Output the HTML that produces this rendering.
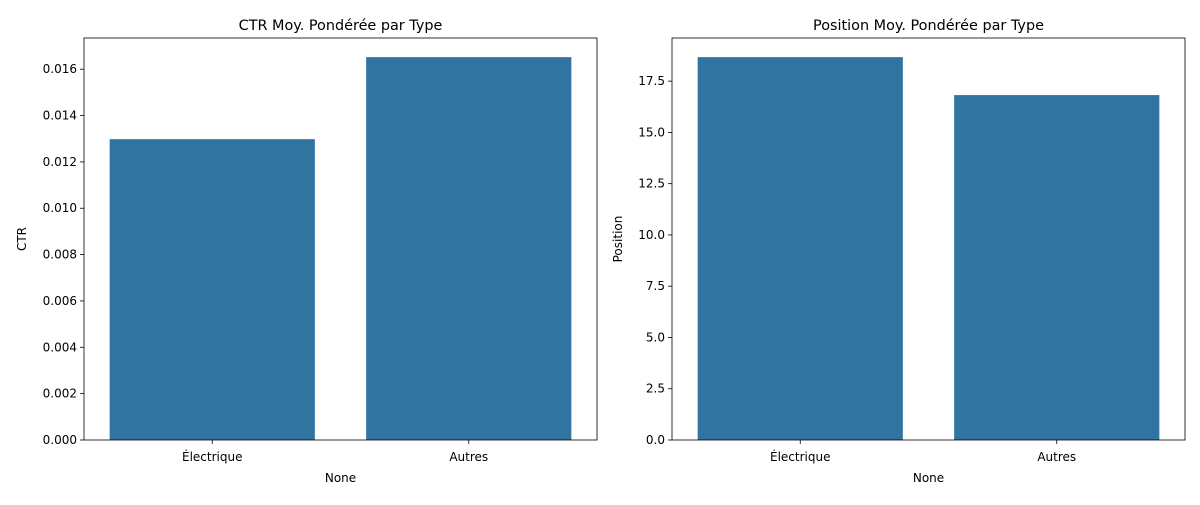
<!DOCTYPE html>
<html><head><meta charset="utf-8"><style>
body{margin:0;background:#fff;font-family:"Liberation Sans","DejaVu Sans",sans-serif;}
svg text{font-family:"DejaVu Sans","Liberation Sans",sans-serif;fill:#000;}
</style></head><body>
<svg id="chart" width="1200" height="500" xmlns="http://www.w3.org/2000/svg"></svg>
<script>
const categories = ["Électrique", "Autres"];
const ctrValues = [0.01298, 0.01652];
const posValues = [18.67, 16.82];
const ctrTicks = [0, 0.002, 0.004, 0.006, 0.008, 0.010, 0.012, 0.014, 0.016];
const ctrTickLabels = ["0.000","0.002","0.004","0.006","0.008","0.010","0.012","0.014","0.016"];
const posTicks = [0, 2.5, 5, 7.5, 10, 12.5, 15, 17.5];
const posTickLabels = ["0.0","2.5","5.0","7.5","10.0","12.5","15.0","17.5"];

const svg = document.getElementById('chart');
const NS = "http://www.w3.org/2000/svg";
function mk(tag, attrs, parent){const e=document.createElementNS(NS,tag);for(const k in attrs)e.setAttribute(k,attrs[k]);(parent||svg).appendChild(e);return e;}

function panel(prefix, left, title, ylabel, values, ticks, tickLabels){
  const top=38,bottom=440,right=left+513;
  const g=mk('g',{});
  
  
  const ymax=Math.max(...values)*1.05;
  const y=v=>bottom-(v/ymax)*(bottom-top);
  const x=i=>left+(i+0.5)*(right-left)/categories.length;
  const bw=0.8*(right-left)/categories.length;
  values.forEach((v,i)=>{
    const r=mk('rect',{x:x(i)-bw/2,y:y(v),width:bw,height:bottom-y(v),fill:'#3274a1'},g);
    
    
  });
  ticks.forEach((t,i)=>{
    mk('line',{x1:left-4,x2:left,y1:y(t),y2:y(t),stroke:'#000','stroke-width':0.8},g);
    const tx=mk('text',{x:left-7,y:y(t)+4,'text-anchor':'end','font-size':'12'},g);
    tx.textContent=tickLabels[i];
    
    
  });
  categories.forEach((c,i)=>{
    mk('line',{x1:x(i),x2:x(i),y1:bottom,y2:bottom+4,stroke:'#000','stroke-width':0.8},g);
    const tx=mk('text',{x:x(i),y:bottom+21,'text-anchor':'middle','font-size':'12'},g);
    tx.textContent=c;
    
    
  });
  const fr=mk('rect',{x:left,y:top,width:right-left,height:bottom-top,fill:'none',stroke:'#000','stroke-width':0.8},g);
  
  
  const t=mk('text',{x:(left+right)/2,y:30,'text-anchor':'middle','font-size':'14.4'},g);
  t.textContent=title;
  
  
  const xl=mk('text',{x:(left+right)/2,y:482,'text-anchor':'middle','font-size':'12'},g);
  xl.textContent='None';
  
  
  const yx=left-(prefix==='ctr'?58:50), yy=(top+bottom)/2;
  const yl=mk('text',{x:yx,y:yy,'text-anchor':'middle','font-size':'12',transform:`rotate(-90 ${yx} ${yy})`},g);
  yl.textContent=ylabel;
  
  
}
panel('ctr',84,'CTR Moy. Pondérée par Type','CTR',ctrValues,ctrTicks,ctrTickLabels);
panel('position',672,'Position Moy. Pondérée par Type','Position',posValues,posTicks,posTickLabels);
</script>
</body></html>
